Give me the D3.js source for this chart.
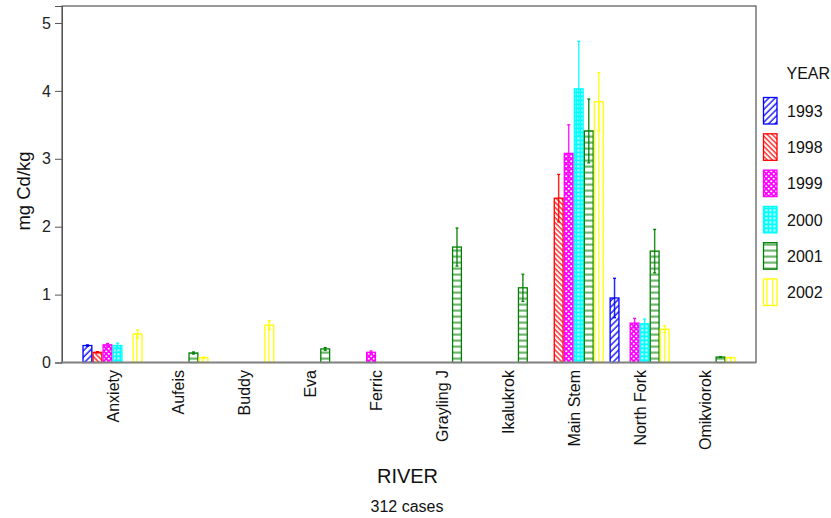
<!DOCTYPE html>
<html>
<head>
<meta charset="utf-8">
<script src="https://cdn.jsdelivr.net/npm/d3@7"></script>
<style>
  body { margin: 0; background: #fff; }
  svg { display: block; font-family: "Liberation Sans", Arial, sans-serif; }
</style>
</head>
<body>
<svg id="chart" width="831" height="518"></svg>
<script>
const rivers = ["Anxiety","Aufeis","Buddy","Eva","Ferric","Grayling J","Ikalukrok","Main Stem","North Fork","Omikviorok"];
const years = ["1993","1998","1999","2000","2001","2002"];
const colors = ["#0000ff","#ff0000","#ff00ff","#00ffff","#008000","#ffff00"];
// mean mg Cd/kg per year, per river (null = no sample)
const mean1993 = [0.25, null, null, null, null, null, null, null, 0.95, null];
const mean1998 = [0.15, null, null, null, null, null, null, 2.42, null, null];
const mean1999 = [0.26, null, null, null, 0.15, null, null, 3.08, 0.58, null];
const mean2000 = [0.25, null, null, null, null, null, null, 4.03, 0.57, null];
const mean2001 = [null, 0.14, null, 0.20, null, 1.70, 1.10, 3.41, 1.64, 0.08];
const mean2002 = [0.42, 0.07, 0.55, null, null, null, null, 3.84, 0.49, 0.07];
// standard error
const se1993 = [0.01, null, null, null, null, null, null, null, 0.29, null];
const se1998 = [0.01, null, null, null, null, null, null, 0.35, null, null];
const se1999 = [0.02, null, null, null, 0.02, null, null, 0.42, 0.07, null];
const se2000 = [0.035, null, null, null, null, null, null, 0.70, 0.07, null];
const se2001 = [null, 0.015, null, 0.02, null, 0.28, 0.20, 0.47, 0.32, 0.005];
const se2002 = [0.06, 0.01, 0.065, null, null, null, null, 0.43, 0.05, 0.005];
const yTicks = [0, 1, 2, 3, 4, 5];

const means = [mean1993, mean1998, mean1999, mean2000, mean2001, mean2002];
const ses = [se1993, se1998, se1999, se2000, se2001, se2002];

const svg = d3.select("#chart");
const L = 62, R = 756, T = 6, B = 362.5;

const x0 = d3.scaleBand().domain(rivers).range([L, R]).paddingInner(0.0868).paddingOuter(0.31);
const x1 = d3.scaleBand().domain(years).range([0, x0.bandwidth()]).padding(0);
const y = d3.scaleLinear().domain([0, 5.25]).range([B, T]);

// patterns
const defs = svg.append("defs");
function pat(id, w, h, transform) {
  const p = defs.append("pattern").attr("id", id).attr("patternUnits", "userSpaceOnUse")
    .attr("width", w).attr("height", h);
  if (transform) p.attr("patternTransform", transform);
  return p;
}
// 1993 "/" hatch
let p = pat("p1993", 4.5, 4.5, "rotate(45)");
p.append("rect").attr("width", 4.5).attr("height", 4.5).attr("fill", "#fff");
p.append("line").attr("x1", 1).attr("y1", 0).attr("x2", 1).attr("y2", 4.5).attr("stroke", "#0000ff").attr("stroke-width", 1.3);
// 1998 "\" hatch
p = pat("p1998", 3.6, 3.6, "rotate(-45)");
p.append("rect").attr("width", 3.6).attr("height", 3.6).attr("fill", "#fff");
p.append("line").attr("x1", 1).attr("y1", 0).attr("x2", 1).attr("y2", 3.6).attr("stroke", "#ff0000").attr("stroke-width", 1.2);
// 1999 dotted check
p = pat("p1999", 5, 5);
p.append("rect").attr("width", 5).attr("height", 5).attr("fill", "#ff00ff");
p.append("circle").attr("cx", 1.25).attr("cy", 1.25).attr("r", 1.1).attr("fill", "#fff");
p.append("circle").attr("cx", 3.75).attr("cy", 3.75).attr("r", 1.1).attr("fill", "#fff");
// 2000 grid
p = pat("p2000", 4, 4);
p.append("rect").attr("width", 4).attr("height", 4).attr("fill", "#00ffff");
p.append("rect").attr("x", 1.3).attr("y", 1.3).attr("width", 2.2).attr("height", 2.2).attr("fill", "#c8ffff");
// 2001 horizontal lines
p = pat("p2001", 6, 6);
p.append("rect").attr("width", 6).attr("height", 6).attr("fill", "#fff");
p.append("rect").attr("x", 0).attr("y", 3.5).attr("width", 6).attr("height", 2.2).attr("fill", "#6fb56f");
// 2002 vertical lines
p = pat("p2002", 6, 6);
p.append("rect").attr("width", 6).attr("height", 6).attr("fill", "#fff");
p.append("rect").attr("x", 4).attr("y", 0).attr("width", 1.6).attr("height", 6).attr("fill", "#ffff40");

// frame
svg.append("rect").attr("x", L).attr("y", T).attr("width", R - L).attr("height", B - T)
  .attr("fill", "none").attr("stroke", "#333").attr("stroke-width", 1);

// y axis
const yAxis = d3.axisLeft(y).tickValues(yTicks).tickSize(7).tickPadding(4).tickFormat(d3.format("d"));
const gy = svg.append("g").attr("transform", `translate(${L},0)`).call(yAxis);
gy.select(".domain").attr("stroke", "#555");
gy.selectAll(".tick line").attr("stroke", "#555");
gy.selectAll("text").attr("font-size", 16).attr("fill", "#222")
  .attr("font-family", "'Liberation Sans', Arial, sans-serif");

// bars
const rows = [];
years.forEach((yr, j) => {
  rivers.forEach((rv, i) => {
    if (means[j][i] != null) rows.push({ yr, j, rv, v: means[j][i], e: ses[j][i] });
  });
});
const bw = x1.bandwidth();
const gb = svg.append("g");
gb.selectAll("rect.bar").data(rows).join("rect").attr("class", "bar")
  .attr("x", d => x0(d.rv) + x1(d.yr) + 0.6)
  .attr("y", d => y(d.v))
  .attr("width", bw - 1.2)
  .attr("height", d => y(0) - y(d.v))
  .attr("fill", d => `url(#p${d.yr})`)
  .attr("stroke", d => colors[d.j])
  .attr("stroke-width", 1.3);

// error bars
const ge = svg.append("g");
rows.forEach(d => {
  const cx = x0(d.rv) + x1(d.yr) + bw / 2;
  const c = colors[d.j];
  ge.append("line").attr("x1", cx).attr("x2", cx).attr("y1", y(d.v + d.e)).attr("y2", y(d.v - d.e))
    .attr("stroke", c).attr("stroke-width", 1.5).attr("opacity", 0.85);
  [d.v + d.e, d.v - d.e].forEach(vv => {
    ge.append("line").attr("x1", cx - 1.5).attr("x2", cx + 1.5).attr("y1", y(vv)).attr("y2", y(vv))
      .attr("stroke", c).attr("stroke-width", 1.3);
  });
});

// bottom axis line
svg.append("line").attr("x1", L).attr("x2", R).attr("y1", B).attr("y2", B)
  .attr("stroke", "#808080").attr("stroke-width", 2);

// x labels
svg.append("g").selectAll("text").data(rivers).join("text")
  .attr("transform", d => `translate(${x0(d) + x0.bandwidth() / 2 + 6},370) rotate(-90)`)
  .attr("text-anchor", "end")
  .attr("font-size", 16).attr("fill", "#111")
  .text(d => d);

// axis titles
svg.append("text").attr("x", 407.5).attr("y", 483).attr("text-anchor", "middle")
  .attr("font-size", 20).attr("fill", "#111").text("RIVER");
svg.append("text").attr("x", 407).attr("y", 512).attr("text-anchor", "middle")
  .attr("font-size", 16).attr("fill", "#111").text("312 cases");
svg.append("text").attr("transform", "translate(30,191) rotate(-90)").attr("text-anchor", "middle")
  .attr("font-size", 18.5).attr("fill", "#111").text("mg Cd/kg");

// legend
const lg = svg.append("g");
lg.append("text").attr("x", 786.5).attr("y", 79).attr("font-size", 16).attr("fill", "#111").text("YEAR");
years.forEach((yr, j) => {
  const top = 97.5 + j * 36.3;
  lg.append("rect").attr("x", 763.5).attr("y", top).attr("width", 13.5).attr("height", 26.5)
    .attr("fill", `url(#p${yr})`).attr("stroke", colors[j]).attr("stroke-width", 1.3);
  lg.append("text").attr("x", 787).attr("y", top + 19.3).attr("font-size", 16).attr("fill", "#111").text(yr);
});
</script>
</body>
</html>
